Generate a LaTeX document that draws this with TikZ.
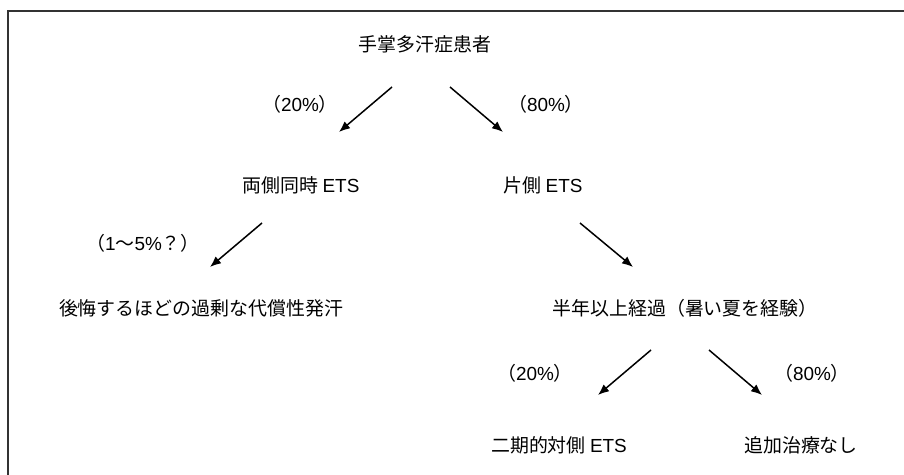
\documentclass[tikz,border=0pt]{standalone}
\usepackage{fontspec}
\setmainfont{Noto Sans CJK JP}
\newfontfamily\latn{Liberation Sans}
\usetikzlibrary{arrows.meta}
\begin{document}
\begin{tikzpicture}[x=1bp,y=-1bp,
  lbl/.style={inner sep=0pt, font=\fontsize{19}{22}\selectfont, text=black},
  arr/.style={line width=1.5bp, -{Latex[length=11bp,width=9bp]}}]
\useasboundingbox (0,0) rectangle (904,475);
\fill[white] (0,0) rectangle (904,475);
\draw[black!80, line width=1.2bp] (8,476) -- (8,11) -- (905,11);

\node[lbl] (root) at (425,44) {手掌多汗症患者};
\node[lbl] (bil) at (301,185) {両側同時 {\latn ETS}};
\node[lbl] (uni) at (543,185) {片側 {\latn ETS}};
\node[lbl] (regret) at (201,308) {後悔するほどの過剰な代償性発汗};
\node[lbl] (half) at (685,308) {半年以上経過（暑い夏を経験）};
\node[lbl] (second) at (559,445) {二期的対側 {\latn ETS}};
\node[lbl] (none) at (801,445) {追加治療なし};

\node[lbl] (p20a) at (300,104) {（{\latn 20\%}）};
\node[lbl] (p80a) at (546,104) {（{\latn 80\%}）};
\node[lbl] (p15) at (143,243) {（{\latn 1}～{\latn 5\%}？）};
\node[lbl] (p20b) at (535,373) {（{\latn 20\%}）};
\node[lbl] (p80b) at (812,373) {（{\latn 80\%}）};

\coordinate (a1s) at (392,87);  \coordinate (a1e) at (339,132);
\coordinate (a2s) at (450,87);  \coordinate (a2e) at (503,132);
\coordinate (a3s) at (262,223); \coordinate (a3e) at (210,267);
\coordinate (a4s) at (580,223); \coordinate (a4e) at (633,267);
\coordinate (a5s) at (651,350); \coordinate (a5e) at (598,395);
\coordinate (a6s) at (709,350); \coordinate (a6e) at (762,395);

\draw[arr] (a1s) -- (a1e);
\draw[arr] (a2s) -- (a2e);
\draw[arr] (a3s) -- (a3e);
\draw[arr] (a4s) -- (a4e);
\draw[arr] (a5s) -- (a5e);
\draw[arr] (a6s) -- (a6e);
\end{tikzpicture}
\end{document}
